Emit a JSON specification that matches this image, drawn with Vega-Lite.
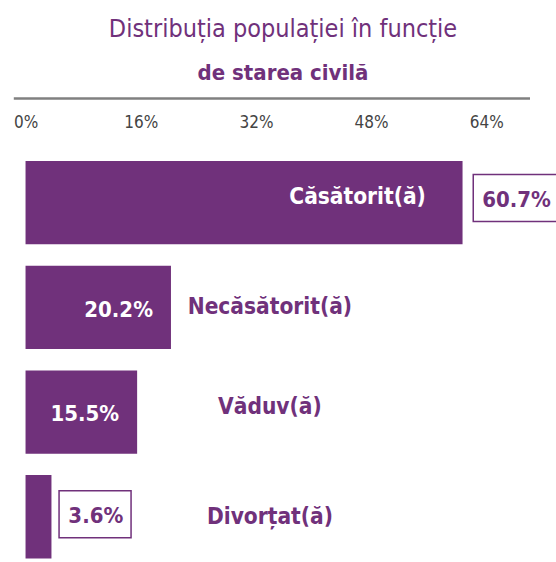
{
  "$schema": "https://vega.github.io/schema/vega-lite/v6.json",
  "autosize": {"type": "none"},
  "padding": {"left": 13.3, "top": 161, "right": 26.5, "bottom": 3.6},
  "width": 516.2,
  "height": 397.4,
  "background": "white",
  "config": {"view": {"stroke": null}},
  "title": {
    "text": "Distribuția populației în funcție",
    "subtitle": "de starea civilă",
    "font": "DejaVu Sans Condensed, sans-serif",
    "fontSize": 25,
    "fontWeight": "normal",
    "color": "#70317b",
    "subtitleFont": "DejaVu Sans Condensed, sans-serif",
    "subtitleFontSize": 22,
    "subtitleFontWeight": "bold",
    "subtitleColor": "#70317b",
    "subtitlePadding": 21,
    "anchor": "middle",
    "frame": "group",
    "dx": 11.6,
    "offset": 14
  },
  "data": {
    "values": [
      {"status": "Căsătorit(ă)", "value": 60.7, "label": "60.7%"},
      {"status": "Necăsătorit(ă)", "value": 20.2, "label": "20.2%"},
      {"status": "Văduv(ă)", "value": 15.5, "label": "15.5%"},
      {"status": "Divorțat(ă)", "value": 3.6, "label": "3.6%"}
    ]
  },
  "encoding": {
    "y": {"field": "status", "type": "nominal", "sort": null, "axis": null,
          "scale": {"paddingInner": 0.204, "paddingOuter": 0}}
  },
  "layer": [
    {
      "mark": {"type": "bar", "color": "#70317b"},
      "encoding": {
        "x": {"field": "value", "type": "quantitative",
              "scale": {"domain": [-1.7, 70], "nice": false, "zero": false},
              "axis": {"orient": "top", "values": [0, 16, 32, 48, 64],
                       "format": ".0f", "labelExpr": "datum.value + '%'",
                       "offset": 63, "domain": true, "domainColor": "#808080", "domainWidth": 2.3,
                       "ticks": false, "grid": false, "title": null,
                       "labelFont": "DejaVu Sans Condensed, sans-serif",
                       "labelFontSize": 17, "labelColor": "#444444",
                       "labelBaseline": "alphabetic", "labelPadding": -29.5, "labelFlush": false}},
        "x2": {"datum": 0}
      }
    },
    {
      "transform": [{"filter": "datum.status == 'Căsătorit(ă)'"}],
      "mark": {"type": "bar", "fill": "white", "stroke": "#70317b", "strokeWidth": 1.5,
               "height": 47, "xOffset": 10.7, "x2Offset": 97.7, "yOffset": -4.7},
      "encoding": {
        "x": {"field": "value", "type": "quantitative"},
        "x2": {"field": "value"}
      }
    },
    {
      "transform": [{"filter": "datum.status == 'Căsătorit(ă)'"}],
      "mark": {"type": "text", "align": "left", "baseline": "alphabetic", "dx": 19.7, "dy": 3.9,
               "font": "DejaVu Sans Condensed, sans-serif",
               "fontSize": 22, "fontWeight": "bold", "color": "#70317b"},
      "encoding": {
        "x": {"field": "value", "type": "quantitative"},
        "text": {"field": "label"}
      }
    },
    {
      "transform": [{"filter": "datum.status == 'Divorțat(ă)'"}],
      "mark": {"type": "bar", "fill": "white", "stroke": "#70317b", "strokeWidth": 1.5,
               "height": 47, "xOffset": 7.6, "x2Offset": 79.6, "yOffset": -2.5},
      "encoding": {
        "x": {"field": "value", "type": "quantitative"},
        "x2": {"field": "value"}
      }
    },
    {
      "transform": [{"filter": "datum.status == 'Divorțat(ă)'"}],
      "mark": {"type": "text", "align": "left", "baseline": "alphabetic", "dx": 16.9, "dy": 6,
               "font": "DejaVu Sans Condensed, sans-serif",
               "fontSize": 22, "fontWeight": "bold", "color": "#70317b"},
      "encoding": {
        "x": {"field": "value", "type": "quantitative"},
        "text": {"field": "label"}
      }
    },
    {
      "transform": [{"filter": "datum.status == 'Necăsătorit(ă)' || datum.status == 'Văduv(ă)'"}],
      "mark": {"type": "text", "align": "right", "baseline": "alphabetic", "dx": -18, "dy": 9.4,
               "font": "DejaVu Sans Condensed, sans-serif",
               "fontSize": 22, "fontWeight": "bold", "color": "white"},
      "encoding": {
        "x": {"field": "value", "type": "quantitative"},
        "text": {"field": "label"}
      }
    },
    {
      "transform": [{"filter": "datum.status == 'Căsătorit(ă)'"}],
      "mark": {"type": "text", "align": "right", "baseline": "alphabetic", "dx": -36.7, "dy": 1.3,
               "font": "DejaVu Sans Condensed, sans-serif",
               "fontSize": 22.5, "fontWeight": "bold", "color": "white"},
      "encoding": {
        "x": {"field": "value", "type": "quantitative"},
        "text": {"field": "status"}
      }
    },
    {
      "transform": [{"filter": "datum.status == 'Necăsătorit(ă)' || datum.status == 'Divorțat(ă)'"}],
      "mark": {"type": "text", "align": "center", "baseline": "alphabetic", "dy": 7,
               "font": "DejaVu Sans Condensed, sans-serif",
               "fontSize": 22.5, "fontWeight": "bold", "color": "#70317b"},
      "encoding": {
        "x": {"datum": 33.94, "type": "quantitative"},
        "text": {"field": "status"}
      }
    },
    {
      "transform": [{"filter": "datum.status == 'Văduv(ă)'"}],
      "mark": {"type": "text", "align": "center", "baseline": "alphabetic", "dy": 1.5,
               "font": "DejaVu Sans Condensed, sans-serif",
               "fontSize": 22.5, "fontWeight": "bold", "color": "#70317b"},
      "encoding": {
        "x": {"datum": 33.94, "type": "quantitative"},
        "text": {"field": "status"}
      }
    }
  ]
}
